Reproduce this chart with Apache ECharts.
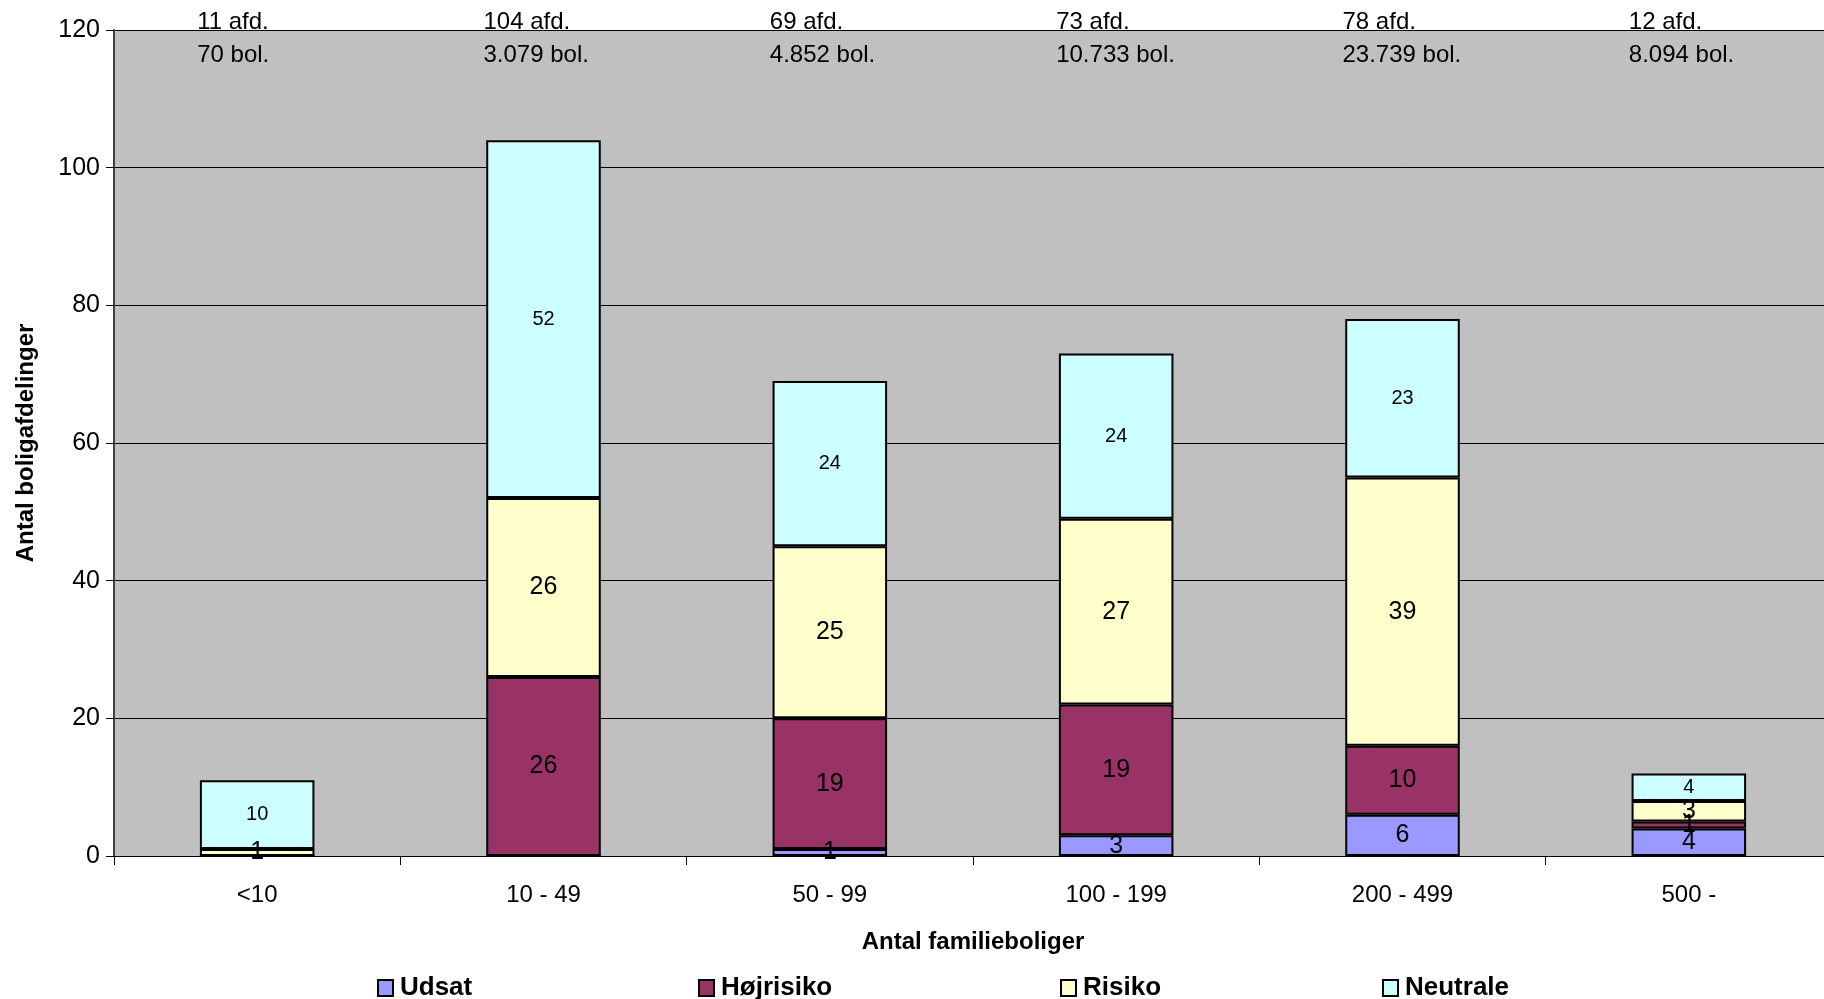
<!DOCTYPE html>
<html><head><meta charset="utf-8">
<script src="https://cdn.jsdelivr.net/npm/echarts@6/dist/echarts.min.js"></script>
<style>html,body{margin:0;padding:0;background:#fff;overflow:hidden}#c{width:1832px;height:999px}</style>
</head><body><div id="c"></div>
<script>
const categories = ['<10', '10 - 49', '50 - 99', '100 - 199', '200 - 499', '500 -'];
const udsat = [0, 0, 1, 3, 6, 4];
const hojrisiko = [0, 26, 19, 19, 10, 1];
const risiko = [1, 26, 25, 27, 39, 3];
const neutrale = [10, 52, 24, 24, 23, 4];
const afdelinger = ['11 afd.', '104 afd.', '69 afd.', '73 afd.', '78 afd.', '12 afd.'];
const boliger = ['70 bol.', '3.079 bol.', '4.852 bol.', '10.733 bol.', '23.739 bol.', '8.094 bol.'];
const yTicks = [0, 20, 40, 60, 80, 100, 120];

const FONT = 'Liberation Sans, Arial, sans-serif';
const NARROW = 'Liberation Sans Narrow, Liberation Sans, Arial, sans-serif';
const chart = echarts.init(document.getElementById('c'));

function barSeries(name, data, color, fs) {
  return {
    name, type: 'bar', stack: 'total', data, barWidth: '40%',
    itemStyle: { color, borderColor: '#000', borderWidth: 2 },
    label: {
      show: true, position: 'inside', color: '#000', fontFamily: FONT, fontSize: fs,
      formatter: p => (p.value ? String(p.value) : '')
    }
  };
}

const legendNames = ['Udsat', 'Højrisiko', 'Risiko', 'Neutrale'];
const legendLefts = [372, 693, 1055, 1377];

chart.setOption({
  animation: false,
  textStyle: { fontFamily: FONT },
  grid: { left: 114, right: 0, top: 30, bottom: 143, show: true, backgroundColor: '#C0C0C0', borderWidth: 0 },
  legend: legendNames.map((n, i) => ({
    data: [n], left: legendLefts[i], top: 970, itemWidth: 15, itemHeight: 16, itemGap: 0,
    icon: 'rect', selectedMode: false,
    itemStyle: { borderColor: '#000', borderWidth: 2 },
    textStyle: { fontFamily: NARROW, fontWeight: 'bold', fontSize: 26, color: '#000', padding: [0, 0, 0, 2] }
  })),
  xAxis: {
    type: 'category', data: categories,
    name: 'Antal familieboliger', nameLocation: 'middle', nameGap: 74,
    nameTextStyle: { fontFamily: FONT, fontWeight: 'bold', fontSize: 24, color: '#000' },
    axisLine: { lineStyle: { color: '#000', width: 1 } },
    axisTick: { show: true, length: 9, lineStyle: { color: '#000' } },
    axisLabel: { fontSize: 24, color: '#000', margin: 27, fontFamily: FONT }
  },
  yAxis: {
    type: 'value', min: 0, max: 120, interval: 20,
    name: 'Antal boligafdelinger', nameLocation: 'middle', nameGap: 76,
    nameTextStyle: { fontFamily: FONT, fontWeight: 'bold', fontSize: 24, color: '#000' },
    axisLine: { show: true, lineStyle: { color: '#404040', width: 2 } },
    axisTick: { show: true, length: 8, lineStyle: { color: '#000' } },
    axisLabel: { fontSize: 25, color: '#000', margin: 14, fontFamily: FONT,
      formatter: v => (yTicks.includes(v) ? String(v) : '') },
    splitLine: { lineStyle: { color: '#000', width: 1 } }
  },
  series: [
    barSeries('Udsat', udsat, '#9999FF', 25),
    barSeries('Højrisiko', hojrisiko, '#993366', 25),
    barSeries('Risiko', risiko, '#FFFFCC', 25),
    barSeries('Neutrale', neutrale, '#CCFFFF', 20),
    {
      type: 'scatter', symbolSize: 0, silent: true, z: 10,
      itemStyle: { opacity: 1 },
      data: categories.map((c, i) => [c, 120]),
      label: {
        show: true, position: [-60, -24], align: 'left', verticalAlign: 'top', opacity: 1,
        fontFamily: FONT, fontSize: 24, lineHeight: 33, color: '#000',
        formatter: p => afdelinger[p.dataIndex] + '\n' + boliger[p.dataIndex]
      }
    }
  ]
});
</script></body></html>
